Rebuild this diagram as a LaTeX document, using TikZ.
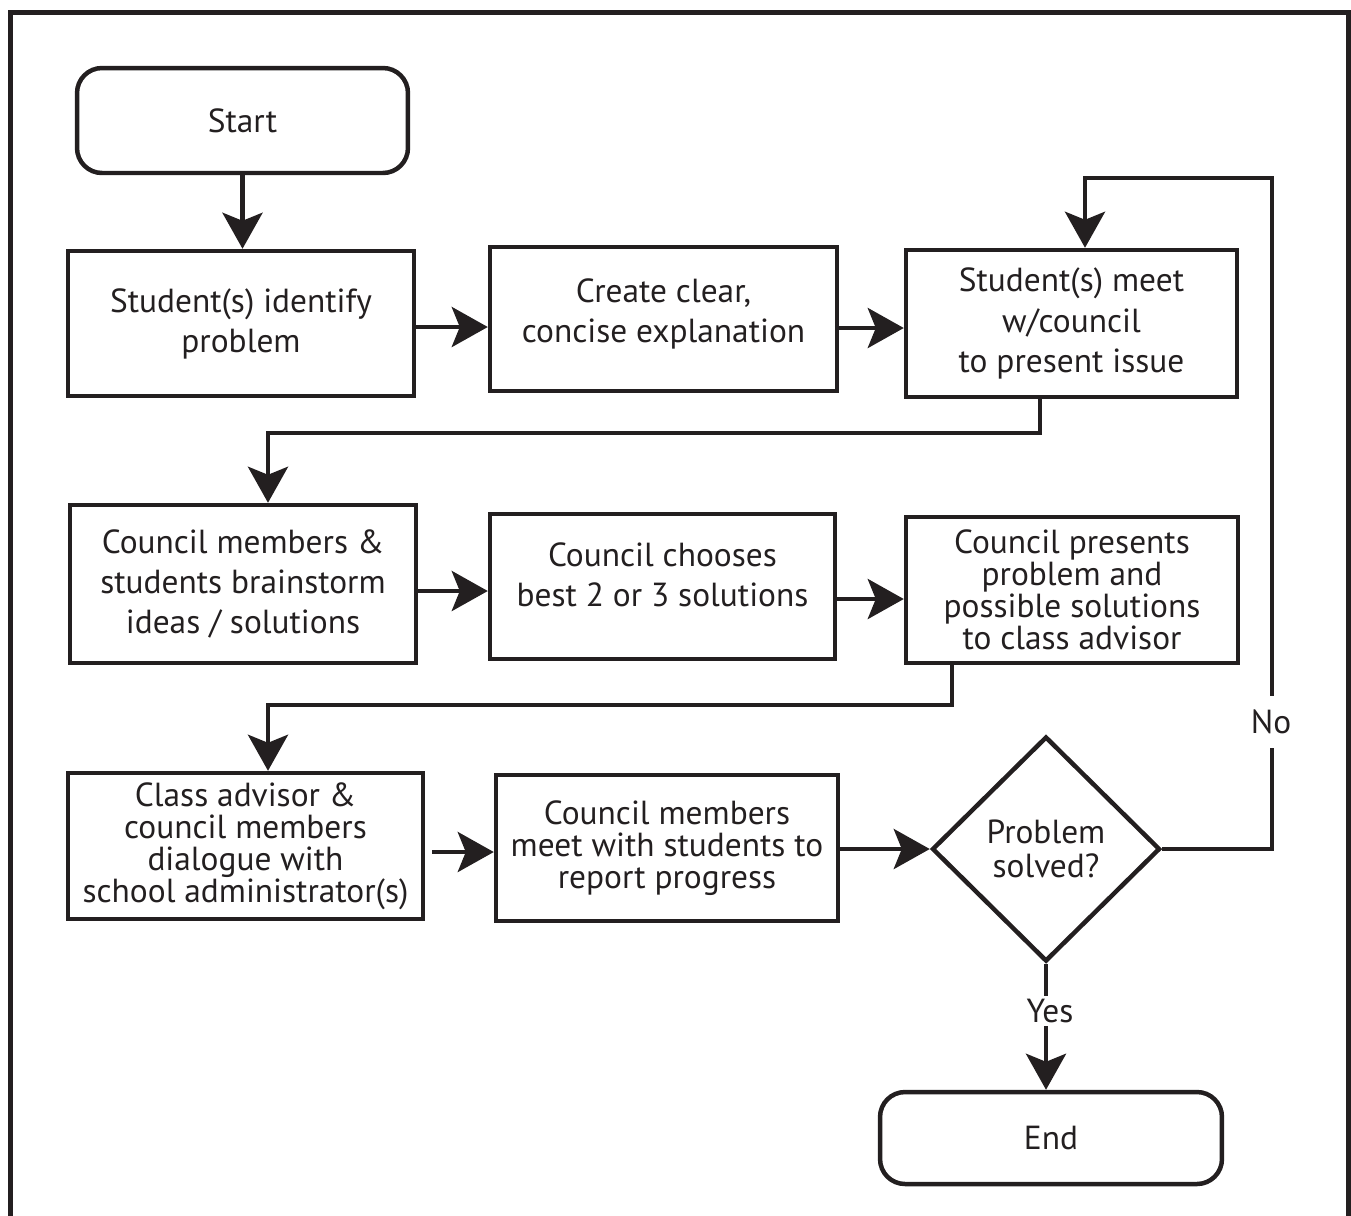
\documentclass[tikz,border=0pt]{standalone}
\usepackage{fontspec}
\setmainfont{PT Sans}
\usetikzlibrary{arrows.meta,shapes.geometric}
\definecolor{inkblack}{RGB}{35,31,32}
\tikzset{
  box/.style={rectangle,draw=inkblack,line width=0.09cm,text=inkblack,align=center,inner sep=0pt,font=\fontsize{19}{22.8}\selectfont},
  tightbox/.style={box,font=\fontsize{19}{18.2}\selectfont},
  term/.style={box,rounded corners=0.5cm},
  decide/.style={diamond,draw=inkblack,line width=0.09cm,text=inkblack,align=center,inner sep=0pt,font=\fontsize{19}{19.3}\selectfont},
  flow/.style={draw=inkblack,line width=0.09cm,-{Stealth[length=0.72cm,width=0.8cm,inset=0.16cm]}},
  tag/.style={fill=white,text=inkblack,font=\fontsize{19}{21}\selectfont,inner xsep=2pt},
}

\begin{document}
\begin{tikzpicture}[x=0.02cm,y=-0.02cm]
        \useasboundingbox (0,0) rectangle (1351,1215);
        % frame, open at the bottom
        \draw[inkblack,line width=0.1cm] (10.8,1220) -- (10.8,12) -- (1348.5,12) -- (1348.5,1220);

        \node (start) at (242.5,120.5) [term,minimum width=6.62cm,minimum height=2.10cm] {Start};
        \node (idprob) at (241,323.5) [box,minimum width=6.92cm,minimum height=2.90cm] {Student(s) identify\\problem};
        \node (explain) at (663.5,319) [box,minimum width=6.94cm,minimum height=2.88cm,text depth=0.32cm] {Create clear,\\concise explanation};
        \node (meet) at (1071.5,323.5) [box,minimum width=6.62cm,minimum height=2.94cm] {Student(s) meet\\w/council\\to present issue};

        \node (brain) at (243,584) [box,minimum width=6.92cm,minimum height=3.16cm] {Council members \&\\students brainstorm\\ideas / solutions};
        \node (choose) at (662.5,586.5) [box,minimum width=6.90cm,minimum height=2.90cm,text depth=0.48cm] {Council chooses\\best 2 or 3 solutions};
        \node (present) at (1072,590) [tightbox,minimum width=6.64cm,minimum height=2.92cm] {Council presents\\problem and\\possible solutions\\to class advisor};

        \node (dialog) at (245.5,846) [tightbox,minimum width=7.10cm,minimum height=2.92cm] {Class advisor \&\\council members\\dialogue with\\school administrator(s)};
        \node (report) at (667,848) [tightbox,minimum width=6.84cm,minimum height=2.92cm] {Council members\\meet with students to\\report progress};
        \node (solved) at (1046,849) [decide,minimum width=4.56cm,minimum height=4.50cm] {Problem\\solved?};
        \node (finish) at (1051,1138) [term,minimum width=6.84cm,minimum height=1.84cm] {End};

        \draw[flow] (start.south) -- (start.south |- idprob.north);
        \draw[flow] (idprob.east |- 0,327) -- (explain.west |- 0,327);
        \draw[flow] (explain.west |- 0,328) ++(347,0) -- (meet.west |- 0,328);
        \draw[flow] (1040,0 |- meet.south) |- (268,433) -- (268,0 |- brain.north);
        \draw[flow] (brain.east |- 0,591) -- (choose.west |- 0,591);
        \draw[flow] (choose.east |- 0,599) -- (present.west |- 0,599);
        \draw[flow] (952,0 |- present.south) |- (268,705) -- (268,0 |- dialog.north);
        \draw[flow,shorten <=0.14cm] (dialog.east |- 0,852) -- (report.west |- 0,852);
        \draw[flow] (report.east |- solved.west) -- (solved.west);
        \draw[flow] (solved.east) -| (1272,178) -| (1085,0 |- meet.north);
        \draw[flow] (solved.south) -- (solved.south |- finish.north);

        \node (no) at (1271,722) [tag,inner ysep=8pt] {No};
        \node (yes) at (1050,1011) [tag,inner ysep=2pt] {Yes};
      \end{tikzpicture}
\end{document}
